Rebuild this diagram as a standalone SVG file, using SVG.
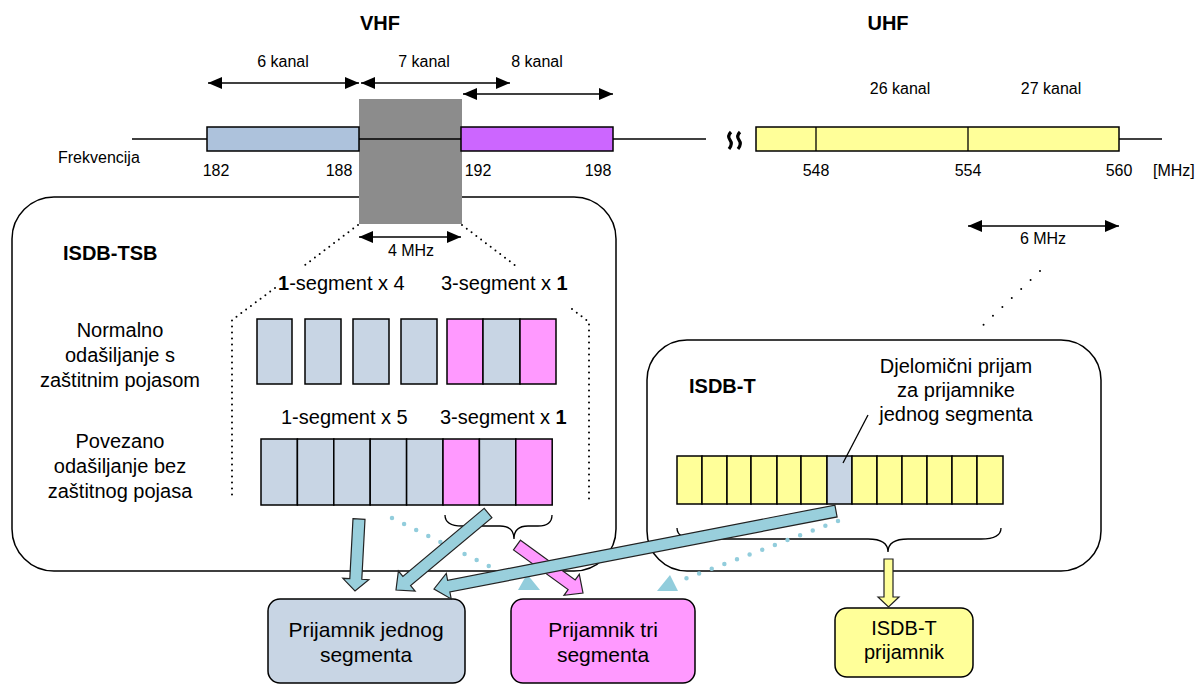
<svg xmlns="http://www.w3.org/2000/svg" width="1203" height="684" viewBox="0 0 1203 684">
<defs>
<marker id="ah" viewBox="0 0 14 12" refX="14" refY="6" markerWidth="14" markerHeight="12" markerUnits="userSpaceOnUse" orient="auto-start-reverse"><path d="M0,0 L14,6 L0,12 z" fill="#000"/></marker>
<style>
text{font-family:"Liberation Sans",Arial,sans-serif;fill:#000}
.b{font-weight:bold;font-size:20px}
.k{font-size:16px}
.n{font-size:16px}
.s{font-size:20px}
.m{font-size:20px}
.r{font-size:21px}
.c{text-anchor:middle}
.ln{stroke:#000;stroke-width:1.3;fill:none}
.cell{stroke:#000;stroke-width:1.5}
.bl{fill:#c8d5e4}
.pk{fill:#ff99ff}
.ye{fill:#ffff99}
.dot{stroke:#000;stroke-width:2;stroke-linecap:round;fill:none}
.tdot{stroke:#92cddc;stroke-width:4.5;stroke-linecap:round;stroke-dasharray:0 13.5;fill:none}
.arr{stroke:#222;stroke-width:1.2;stroke-linejoin:miter}
.dim{stroke:#000;stroke-width:1.5;marker-start:url(#ah);marker-end:url(#ah)}
</style>
</defs>

<!-- ISDB-TSB container -->
<g id="isdb-tsb">
<rect x="12" y="197" width="604" height="374" rx="42" fill="#fff" stroke="#000" stroke-width="1.5"/>
<text class="b" x="63" y="260">ISDB-TSB</text>
<text class="s c" x="120" y="337">Normalno</text>
<text class="s c" x="120" y="362">odašiljanje s</text>
<text class="s c" x="120" y="387">zaštitnim pojasom</text>
<text class="s c" x="120" y="448">Povezano</text>
<text class="s c" x="120" y="473">odašiljanje bez</text>
<text class="s c" x="120" y="498">zaštitnog pojasa</text>
<text class="s" x="278" y="290"><tspan font-weight="bold">1</tspan>-segment x 4</text>
<text class="s" x="441" y="290">3-segment x <tspan font-weight="bold">1</tspan></text>
<text class="s" x="281" y="424">1-segment x 5</text>
<text class="s" x="440" y="424">3-segment x <tspan font-weight="bold">1</tspan></text>
<g id="row1">
<rect class="cell bl" x="257" y="319" width="35" height="65"/>
<rect class="cell bl" x="305" y="319" width="36" height="65"/>
<rect class="cell bl" x="353" y="319" width="36" height="65"/>
<rect class="cell bl" x="401" y="319" width="36" height="65"/>
<rect class="cell pk" x="447" y="319" width="36" height="65"/>
<rect class="cell bl" x="483" y="319" width="37" height="65"/>
<rect class="cell pk" x="520" y="319" width="36" height="65"/>
</g>
<g id="row2">
<rect class="cell bl" x="261" y="439" width="36.4" height="66"/>
<rect class="cell bl" x="297.4" y="439" width="36.4" height="66"/>
<rect class="cell bl" x="333.8" y="439" width="36.4" height="66"/>
<rect class="cell bl" x="370.2" y="439" width="36.4" height="66"/>
<rect class="cell bl" x="406.6" y="439" width="36.4" height="66"/>
<rect class="cell pk" x="443" y="439" width="36.4" height="66"/>
<rect class="cell bl" x="479.4" y="439" width="36.4" height="66"/>
<rect class="cell pk" x="515.8" y="439" width="36.4" height="66"/>
</g>
<path class="ln" d="M445,515 Q445,526 462,526 L500,526 Q514,526 514,539 Q514,526 528,526 L538,526 Q552,526 552,515"/>
<path class="dot" stroke-dasharray="0 6" d="M358,225 L305,265 M275,288 L232,320 L232,500"/>
<path class="dot" stroke-dasharray="0 6" d="M462,225 L516,266 M572,309 L589,322 L589,500"/>
</g>

<!-- ISDB-T container -->
<g id="isdb-t">
<rect x="647" y="340" width="454" height="231" rx="40" fill="#fff" stroke="#000" stroke-width="1.5"/>
<text class="b" x="689" y="393">ISDB-T</text>
<text class="m c" x="956" y="373">Djelomični prijam</text>
<text class="m c" x="956" y="397">za prijamnike</text>
<text class="m c" x="956" y="421">jednog segmenta</text>
<g id="row3">
<rect class="cell ye" x="677" y="456" width="25" height="48"/>
<rect class="cell ye" x="702" y="456" width="25" height="48"/>
<rect class="cell ye" x="727" y="456" width="24" height="48"/>
<rect class="cell ye" x="751" y="456" width="26" height="48"/>
<rect class="cell ye" x="777" y="456" width="24" height="48"/>
<rect class="cell ye" x="801" y="456" width="26" height="48"/>
<rect class="cell bl" x="827" y="456" width="25" height="48"/>
<rect class="cell ye" x="852" y="456" width="25" height="48"/>
<rect class="cell ye" x="877" y="456" width="25" height="48"/>
<rect class="cell ye" x="902" y="456" width="25" height="48"/>
<rect class="cell ye" x="927" y="456" width="25" height="48"/>
<rect class="cell ye" x="952" y="456" width="25" height="48"/>
<rect class="cell ye" x="977" y="456" width="26" height="48"/>
</g>
<path class="ln" d="M868,415 L843,463"/>
<path class="ln" d="M677,528 Q677,539 697,539 L868,539 Q888,539 888,552 Q888,539 908,539 L981,539 Q1001,539 1001,528"/>
</g>

<!-- frequency axis -->
<g id="axis">
<rect x="359" y="99" width="103" height="125" fill="#8c8c8c"/>
<line class="ln" x1="132" y1="139" x2="706" y2="139"/>
<line class="ln" x1="1119" y1="139" x2="1162" y2="139"/>
<rect x="207" y="127" width="152" height="24" fill="#adc2dc" stroke="#000" stroke-width="1.5"/>
<rect x="461" y="127" width="152" height="24" fill="#cc66ff" stroke="#000" stroke-width="1.5"/>
<rect x="756" y="127" width="363" height="24" fill="#ffff99" stroke="#000" stroke-width="1.5"/>
<line class="ln" x1="816" y1="127" x2="816" y2="151" stroke-width="1.8"/>
<line class="ln" x1="968" y1="127" x2="968" y2="151" stroke-width="1.8"/>
<path d="M731,132 Q727,136 730,140 Q733,144 729,149 M740,132 Q736,136 739,140 Q742,144 738,149" fill="none" stroke="#000" stroke-width="3.2"/>
<text class="b c" x="380" y="30">VHF</text>
<text class="b c" x="888" y="30">UHF</text>
<text class="k c" x="283" y="67">6 kanal</text>
<text class="k c" x="424" y="67">7 kanal</text>
<text class="k c" x="537" y="67">8 kanal</text>
<text class="k c" x="900" y="94">26 kanal</text>
<text class="k c" x="1051" y="94">27 kanal</text>
<text class="n" x="58" y="163">Frekvencija</text>
<text class="n c" x="216" y="176">182</text>
<text class="n c" x="339" y="176">188</text>
<text class="n c" x="478" y="176">192</text>
<text class="n c" x="598" y="176">198</text>
<text class="n c" x="816" y="176">548</text>
<text class="n c" x="968" y="176">554</text>
<text class="n c" x="1119" y="176">560</text>
<text class="n" x="1153" y="176">[MHz]</text>
<line class="dim" x1="208" y1="83" x2="359" y2="83"/>
<line class="dim" x1="361" y1="83" x2="510" y2="83"/>
<line class="dim" x1="463" y1="94" x2="613" y2="94"/>
<line class="dim" x1="359" y1="237" x2="461" y2="237"/>
<text class="n c" x="411" y="256">4 MHz</text>
<line class="dim" x1="968" y1="226" x2="1119" y2="226"/>
<text class="n c" x="1043" y="244">6 MHz</text>
<path class="dot" stroke-dasharray="0 13" d="M1040,271 L975,333"/>
</g>

<!-- receivers -->
<g id="rx-one">
<rect x="268" y="599" width="197" height="84" rx="12" fill="#c8d5e4" stroke="#000" stroke-width="1.5"/>
<text class="r c" x="366" y="637">Prijamnik jednog</text>
<text class="r c" x="366" y="662">segmenta</text>
</g>
<g id="rx-three">
<rect x="511" y="599" width="184" height="84" rx="12" fill="#ff99ff" stroke="#000" stroke-width="1.5"/>
<text class="r c" x="603" y="637">Prijamnik tri</text>
<text class="r c" x="603" y="662">segmenta</text>
</g>
<g id="rx-isdbt">
<rect x="835" y="608" width="138" height="69" rx="12" fill="#ffff99" stroke="#000" stroke-width="1.5"/>
<text class="m c" x="904" y="635">ISDB-T</text>
<text class="m c" x="904" y="659">prijamnik</text>
</g>

<!-- connectors -->
<g id="connectors">
<path class="tdot" d="M392,518 L517,580"/>
<path d="M527,574 L518,590 L540,590 Z" fill="#92cddc"/>
<path class="tdot" d="M838,521 L682,580"/>
<path d="M670,575 L657,591 L678,591 Z" fill="#92cddc"/>
<path class="arr" fill="#99cfdc" d="M353,518.7 L365,519.3 L361.8,579.3 L368.8,579.7 L355,591 L342.8,578.3 L349.8,578.7 Z"/>
<path class="arr" fill="#99cfdc" d="M484.2,508.4 L491.9,517.6 L410.6,585.6 L415.1,591 L396,590 L398.4,571 L402.9,576.4 Z"/>
<path class="arr" fill="#ff99ff" d="M520.5,540.2 L575.2,579.9 L579.3,574.3 L583,593 L564,595.3 L568.1,589.6 L513.5,549.9 Z"/>
<path class="arr" fill="#99cfdc" d="M834.9,505.1 L837.1,516.9 L449.9,592 L451.2,598.9 L434,589 L446.3,573.4 L447.6,580.3 Z"/>
<path class="arr" fill="#ffff99" d="M884,559 L893,559 L893,597 L899,597 L888.5,607 L878,597 L884,597 Z"/>
</g>
</svg>
